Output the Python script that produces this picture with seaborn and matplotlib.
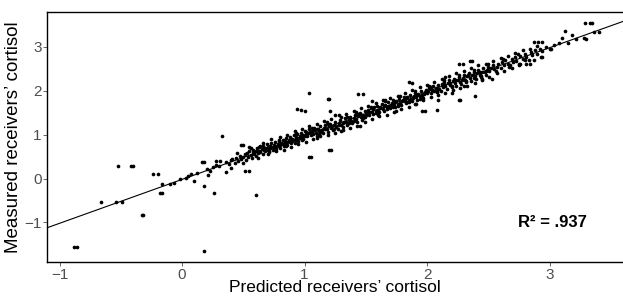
import numpy as np
import matplotlib
matplotlib.use('Agg')
import matplotlib.pyplot as plt
import pandas as pd
import seaborn as sns

# points (predicted, measured)
outlier_x = [-0.88, -0.86, 0.18, -0.66, -0.54, -0.49, -0.33, -0.32, -0.52, -0.42, -0.40,
             -0.24, -0.20, -0.18, -0.16, -0.16, -0.10, -0.07, -0.02, 0.03, 0.07, 0.10,
             0.18, 0.26, 0.33, 0.16, 0.18, 0.21, 0.23, 0.28, 0.31, 0.36, 0.48, 0.50,
             0.51, 0.55, 0.60, 0.94, 0.97, 1.00, 1.04, 1.04, 1.05, 1.20, 1.22, 1.19,
             1.20, 1.21, 1.44, 1.48, 1.85, 1.88, 1.96, 1.98, 2.08, 2.09, 2.26, 2.27,
             2.39, 2.26, 2.29, 2.35, 2.37, 2.53, 2.76, 2.84, 2.87, 2.91, 2.94, 2.94,
             3.01, 3.13, 3.18, 3.22, 3.28, 3.29, 3.33, 3.35, 3.30, 3.36, 3.40, 3.10,
             3.15, 1.10, 1.30, 1.45, 1.25, 1.60, 1.75, 1.66, 1.90, 1.55, 2.15, 2.20,
             2.30, 2.45, 0.40, 0.50, 0.55, 0.45, 0.12, 0.05, 0.20, 0.25, 0.28, 0.30]
outlier_y = [-1.56, -1.56, -1.66, -0.53, -0.53, -0.53, -0.82, -0.82, 0.29, 0.29, 0.29,
             0.10, 0.10, -0.32, -0.32, -0.12, -0.12, -0.09, 0.00, 0.02, 0.10, -0.05,
             -0.17, -0.32, 0.98, 0.37, 0.37, 0.08, 0.18, 0.39, 0.40, 0.16, 0.77, 0.77,
             0.18, 0.18, -0.37, 1.58, 1.56, 1.55, 1.95, 0.50, 0.50, 0.65, 0.65, 1.82,
             1.82, 1.55, 1.93, 1.92, 2.20, 2.18, 1.53, 1.53, 1.56, 1.78, 1.78, 1.78,
             1.88, 2.60, 2.60, 2.68, 2.68, 2.26, 2.62, 2.62, 3.11, 3.11, 3.11, 2.76,
             2.96, 3.37, 3.27, 3.17, 3.21, 3.55, 3.55, 3.55, 3.18, 3.34, 3.34, 3.21,
             3.09, 0.93, 1.08, 1.20, 1.45, 1.45, 1.55, 1.80, 1.70, 1.77, 2.32, 1.95,
             2.10, 2.25, 0.25, 0.35, 0.72, 0.58, 0.13, 0.06, 0.22, 0.26, 0.30, 0.28]

band_x = [0.36, 0.38, 0.40, 0.41, 0.43, 0.44, 0.46, 0.47, 0.48, 0.50, 0.51, 0.52, 0.53,
          0.54, 0.55, 0.56, 0.57, 0.58, 0.58, 0.59, 0.60, 0.60,
          0.61, 0.62, 0.63, 0.63, 0.64, 0.65, 0.66, 0.66, 0.67, 0.68, 0.68, 0.69, 0.70,
          0.70, 0.71, 0.72, 0.72, 0.73, 0.74, 0.74, 0.75, 0.76, 0.76, 0.77, 0.78, 0.78,
          0.79, 0.80, 0.80, 0.81, 0.82, 0.82, 0.83, 0.84, 0.84, 0.85, 0.86, 0.86, 0.87,
          0.88, 0.88, 0.89, 0.90, 0.90, 0.91, 0.92, 0.92, 0.93, 0.94, 0.94, 0.95, 0.96,
          0.96, 0.97, 0.98, 0.98, 0.99, 1.00, 1.00,
          1.01, 1.02, 1.03, 1.04, 1.05, 1.06, 1.07, 1.08, 1.09, 1.10, 1.11, 1.12, 1.13,
          1.14, 1.15, 1.16, 1.17, 1.18, 1.19, 1.20, 1.21, 1.22, 1.23, 1.24, 1.25, 1.26,
          1.27, 1.28, 1.29, 1.30, 1.31, 1.32, 1.33, 1.34, 1.35, 1.36, 1.37, 1.38, 1.39,
          1.40, 1.41, 1.42, 1.43, 1.44, 1.45, 1.46, 1.47, 1.48, 1.49, 1.50,
          1.015, 1.045, 1.075, 1.105, 1.135, 1.165, 1.195, 1.225, 1.255, 1.285, 1.315,
          1.345, 1.375, 1.405, 1.435, 1.465, 1.495,
          1.51, 1.52, 1.53, 1.54, 1.55, 1.56, 1.57, 1.58, 1.59, 1.60, 1.61, 1.62, 1.63,
          1.64, 1.65, 1.66, 1.67, 1.68, 1.69, 1.70, 1.71, 1.72, 1.73, 1.74, 1.75, 1.76,
          1.77, 1.78, 1.79, 1.80, 1.81, 1.82, 1.83, 1.84, 1.85, 1.86, 1.87, 1.88, 1.89,
          1.90, 1.91, 1.92, 1.93, 1.94, 1.95, 1.96, 1.97, 1.98, 1.99, 2.00,
          1.525, 1.555, 1.585, 1.615, 1.645, 1.675, 1.705, 1.735, 1.765, 1.795, 1.825,
          1.855, 1.885, 1.915, 1.945, 1.975,
          2.01, 2.02, 2.03, 2.04, 2.05, 2.06, 2.07, 2.08, 2.09, 2.10, 2.11, 2.12, 2.13,
          2.14, 2.15, 2.16, 2.17, 2.18, 2.19, 2.20, 2.21, 2.22, 2.23, 2.24, 2.25, 2.26,
          2.27, 2.28, 2.29, 2.30, 2.31, 2.32, 2.33, 2.34, 2.35, 2.36, 2.37, 2.38, 2.39,
          2.40, 2.41, 2.42, 2.43, 2.44, 2.45, 2.46, 2.47, 2.48, 2.49, 2.50,
          2.035, 2.085, 2.135, 2.185, 2.235, 2.285, 2.335, 2.385, 2.435, 2.485,
          2.51, 2.52, 2.54, 2.55, 2.57, 2.58, 2.60, 2.61, 2.63, 2.64, 2.66, 2.67, 2.69,
          2.70, 2.72, 2.73, 2.75, 2.76, 2.78, 2.80, 2.81, 2.83, 2.85, 2.86, 2.88, 2.90,
          2.92, 2.94, 2.97, 3.00, 3.04, 3.08]
band_y = [0.38, 0.33, 0.42, 0.45, 0.36, 0.47, 0.40, 0.52, 0.44, 0.49, 0.55, 0.43, 0.58,
          0.50, 0.62, 0.53, 0.47, 0.60, 0.66, 0.55, 0.63, 0.51,
          0.69, 0.58, 0.64, 0.72, 0.61, 0.67, 0.56, 0.75, 0.66, 0.62, 0.70, 0.78, 0.66,
          0.72, 0.61, 0.75, 0.69, 0.80, 0.71, 0.65, 0.77, 0.84, 0.72, 0.68, 0.79, 0.74,
          0.86, 0.76, 0.70, 0.82, 0.89, 0.78, 0.74, 0.85, 0.80, 0.92, 0.83, 0.77, 0.88,
          0.95, 0.84, 0.80, 0.91, 0.86, 1.00, 0.89, 0.82, 0.94, 1.02, 0.90, 0.86, 0.97,
          0.92, 1.05, 0.95, 0.89, 1.00, 1.08, 0.96,
          1.07, 0.97, 1.04, 1.12, 0.99, 1.08, 1.02, 1.15, 1.05, 0.98, 1.13, 1.08, 1.19,
          1.10, 1.04, 1.16, 1.22, 1.12, 1.07, 1.19, 1.25, 1.15, 1.10, 1.22, 1.30, 1.20,
          1.14, 1.27, 1.33, 1.23, 1.17, 1.30, 1.37, 1.28, 1.22, 1.34, 1.41, 1.31, 1.26,
          1.38, 1.45, 1.35, 1.30, 1.42, 1.50, 1.40, 1.33, 1.46, 1.53, 1.44,
          1.02, 1.06, 1.10, 1.14, 1.06, 1.12, 1.24, 1.20, 1.18, 1.22, 1.26,
          1.40, 1.36, 1.32, 1.47, 1.45, 1.40,
          1.49, 1.56, 1.45, 1.60, 1.52, 1.47, 1.62, 1.55, 1.66, 1.57, 1.51, 1.64, 1.70,
          1.59, 1.55, 1.68, 1.62, 1.74, 1.65, 1.60, 1.72, 1.78, 1.68, 1.63, 1.76, 1.71,
          1.82, 1.73, 1.68, 1.80, 1.86, 1.77, 1.72, 1.85, 1.80, 1.90, 1.82, 1.76, 1.88,
          1.94, 1.85, 1.80, 1.92, 1.88, 1.99, 1.90, 1.84, 1.97, 2.03, 1.95,
          1.52, 1.58, 1.50, 1.60, 1.66, 1.58, 1.67, 1.74, 1.66, 1.76, 1.83,
          1.75, 1.84, 1.90, 1.82, 1.93,
          1.99, 2.06, 1.94, 2.02, 2.10, 2.00, 2.07, 1.97, 2.13, 2.05, 2.00, 2.15, 2.09,
          2.20, 2.11, 2.05, 2.18, 2.24, 2.13, 2.09, 2.22, 2.28, 2.17, 2.12, 2.25, 2.32,
          2.21, 2.16, 2.29, 2.35, 2.25, 2.20, 2.33, 2.40, 2.29, 2.23, 2.36, 2.43, 2.33,
          2.27, 2.40, 2.47, 2.37, 2.31, 2.44, 2.51, 2.42, 2.36, 2.48, 2.55,
          2.08, 2.04, 2.14, 2.18, 2.25, 2.24, 2.36, 2.30, 2.44, 2.45,
          2.46, 2.53, 2.58, 2.49, 2.55, 2.62, 2.52, 2.66, 2.58, 2.70, 2.61, 2.55, 2.72,
          2.65, 2.76, 2.68, 2.62, 2.80, 2.72, 2.84, 2.76, 2.70, 2.88, 2.82, 2.92, 2.85,
          2.96, 2.90, 3.00, 2.95, 3.05, 3.10]

# wider scatter around the band
spread_x = [0.56, 0.62, 0.66, 0.70, 0.73, 0.77, 0.80, 0.83, 0.86, 0.89, 0.92, 0.95,
            0.98, 1.01, 1.04, 1.07, 1.10, 1.13, 1.16, 1.19, 1.22, 1.25, 1.28, 1.31,
            1.34, 1.37, 1.40, 1.43, 1.46, 1.49, 1.52, 1.55, 1.58, 1.61, 1.64, 1.67,
            1.70, 1.73, 1.76, 1.79, 1.82, 1.85, 1.88, 1.91, 1.94, 1.97, 2.00, 2.03,
            2.06, 2.09, 2.12, 2.15, 2.18, 2.21, 2.24, 2.27, 2.30, 2.33, 2.36, 2.39,
            2.42, 2.45, 2.48, 2.51, 2.54, 2.57, 2.60, 2.63, 2.66, 2.69, 2.72, 2.75,
            2.78, 2.81, 2.84, 2.87, 2.90, 2.93,
            0.64, 0.71, 0.79, 0.85, 0.93, 0.99, 1.06, 1.12, 1.18, 1.24, 1.30, 1.36,
            1.42, 1.48, 1.54, 1.60, 1.66, 1.72, 1.78, 1.84, 1.90, 1.96, 2.02, 2.08,
            2.14, 2.20, 2.26, 2.32, 2.38, 2.44, 2.50, 2.56, 2.62, 2.68, 2.74, 2.80]
spread_y = [0.70, 0.48, 0.82, 0.55, 0.90, 0.62, 0.95, 0.66, 1.00, 0.72, 1.08, 0.78,
            1.12, 0.84, 1.20, 0.90, 1.25, 0.96, 1.32, 1.00, 1.36, 1.05, 1.44, 1.10,
            1.48, 1.16, 1.55, 1.20, 1.60, 1.28, 1.66, 1.36, 1.72, 1.42, 1.78, 1.46,
            1.84, 1.52, 1.88, 1.58, 1.96, 1.64, 2.02, 1.70, 2.08, 1.78, 2.14, 1.85,
            2.20, 1.90, 2.28, 1.96, 2.33, 2.02, 2.40, 2.06, 2.46, 2.12, 2.52, 2.18,
            2.58, 2.28, 2.62, 2.32, 2.68, 2.40, 2.74, 2.45, 2.80, 2.52, 2.86, 2.58,
            2.92, 2.62, 2.96, 2.70, 3.02, 2.76,
            0.74, 0.63, 0.89, 0.75, 1.03, 0.91, 1.16, 1.02, 1.29, 1.14, 1.40, 1.26,
            1.52, 1.38, 1.64, 1.50, 1.76, 1.62, 1.88, 1.74, 2.00, 1.86, 2.12, 1.98,
            2.24, 2.10, 2.36, 2.22, 2.48, 2.34, 2.60, 2.46, 2.72, 2.58, 2.84, 2.70]

df = pd.DataFrame({'predicted': band_x + spread_x + outlier_x,
                   'measured': band_y + spread_y + outlier_y})

plt.rcParams['font.family'] = ['Liberation Sans', 'DejaVu Sans']
fig = plt.figure(figsize=(6.23, 2.96), dpi=100)
ax = fig.add_axes([0.076, 0.115, 0.924, 0.845])
ax.set_xlim(-1.1, 3.6)
ax.set_ylim(-1.9, 3.8)

sns.scatterplot(data=df, x='predicted', y='measured', color='black', s=7,
                linewidth=0, ax=ax)
sns.regplot(data=df, x='predicted', y='measured', scatter=False, ci=None,
            truncate=False, color='black', line_kws={'linewidth': 0.8}, ax=ax)
ax.set_xlim(-1.1, 3.6)
ax.set_ylim(-1.9, 3.8)

ax.set_xticks([-1, 0, 1, 2, 3])
ax.set_yticks([-1, 0, 1, 2, 3])
ax.set_xticklabels(['\u22121', '0', '1', '2', '3'])
ax.set_yticklabels(['\u22121', '0', '1', '2', '3'])
ax.tick_params(colors='#4d4d4d', labelsize=11, length=3, width=0.6, pad=1)
ax.spines['right'].set_visible(False)
for s in ['left', 'bottom', 'top']:
    ax.spines[s].set_linewidth(1.0)
    ax.spines[s].set_color('black')

ax.set_xlabel('Predicted receivers\u2019 cortisol', fontsize=12.5, labelpad=-1)
ax.set_ylabel('Measured receivers\u2019 cortisol', fontsize=13.5, labelpad=2)
ax.text(3.02, -1.0, 'R\u00b2 = .937', fontsize=12, fontweight='bold',
        ha='center', va='center')

fig.savefig('out.png', dpi=100)
